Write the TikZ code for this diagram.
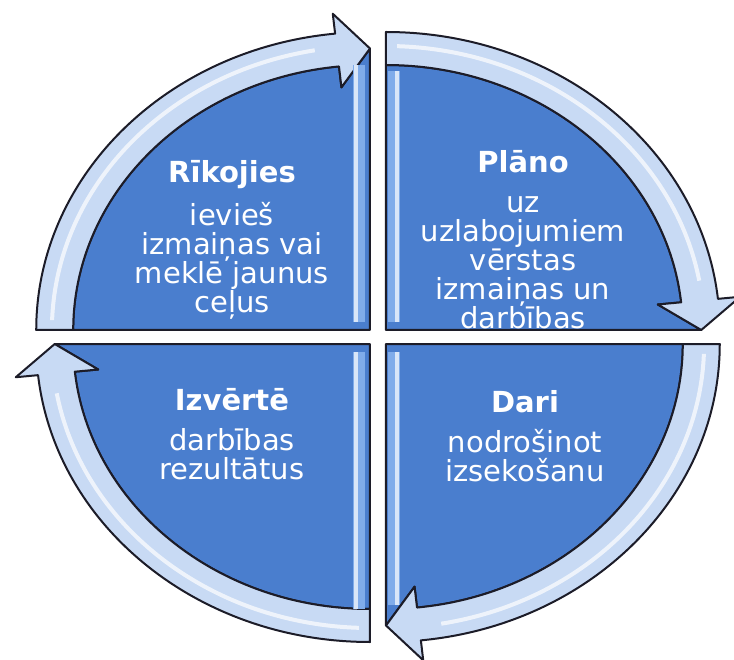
\documentclass[tikz,border=0pt]{standalone}
\usepackage{fontspec}
\setmainfont{DejaVu Sans}
\definecolor{quadblue}{RGB}{74,126,206}
\definecolor{bevelblue}{RGB}{128,172,234}
\definecolor{bandblue}{RGB}{200,218,244}
\definecolor{edgedark}{RGB}{28,28,40}

\begin{document}
\begin{tikzpicture}[x=0.5pt, y=0.5pt,
    quad/.style={fill=quadblue, draw=edgedark, line width=1pt, line join=round},
    band/.style={fill=bandblue, draw=edgedark, line width=1pt, line join=round},
    shine/.style={white, line width=2pt, opacity=0.7},
    bevel/.style={fill=bevelblue, draw=none},
    quadtext/.style={text=white, align=center, font=\fontsize{14.5}{14.5}\selectfont}
    ]
    \useasboundingbox (-378,-322) rectangle (356,337);
    % four quarters, each with its curved arrow
    \foreach \dx/\dy/\rot in {-8/7/0, 8/7/-90, 8/-7/-180, -8/-7/90} {
      \begin{scope}[shift={(\dx,\dy)}, xscale=1.12, rotate=\rot]
        \draw[quad] (0,0) -- (180:265) arc (180:96:265) -- (96:244) -- (90:281.5) -- cycle;
        \draw[band] (180:298) arc (180:96:298) -- (96:318) -- (90:281.5)
          -- (96:244) -- (96:265) arc (96:180:265) -- cycle;
        \draw[shine] (178:284) arc (178:100:284);
      \end{scope}
    }
    % bevel strips along the middle
    \foreach \xa/\xb/\xs/\ya/\yb in {-25/-13/-22/15/272, 10/22/19/15/266,
        -25/-13/-22/-15/-272, 10/22/19/-15/-268} {
      \fill[bevel] (\xa,\ya) rectangle (\xb,\yb);
      \draw[shine] (\xs,\ya) -- (\xs,\yb);
    }
    \node[quadtext] (act) at (-146,97) {\textbf{Rīkojies}\\[5.5pt]ievieš\\izmaiņas vai\\meklē jaunus\\ceļus};
    \node[quadtext] (plan) at (145,97) {\textbf{Plāno}\\[5.5pt]uz\\uzlabojumiem\\vērstas\\izmaiņas un\\darbības};
    \node[quadtext] (check) at (-146,-97) {\textbf{Izvērtē}\\[5.5pt]darbības\\rezultātus};
    \node[quadtext] (do) at (147,-99) {\textbf{Dari}\\[5.5pt]nodrošinot\\izsekošanu};
\end{tikzpicture}
\end{document}
